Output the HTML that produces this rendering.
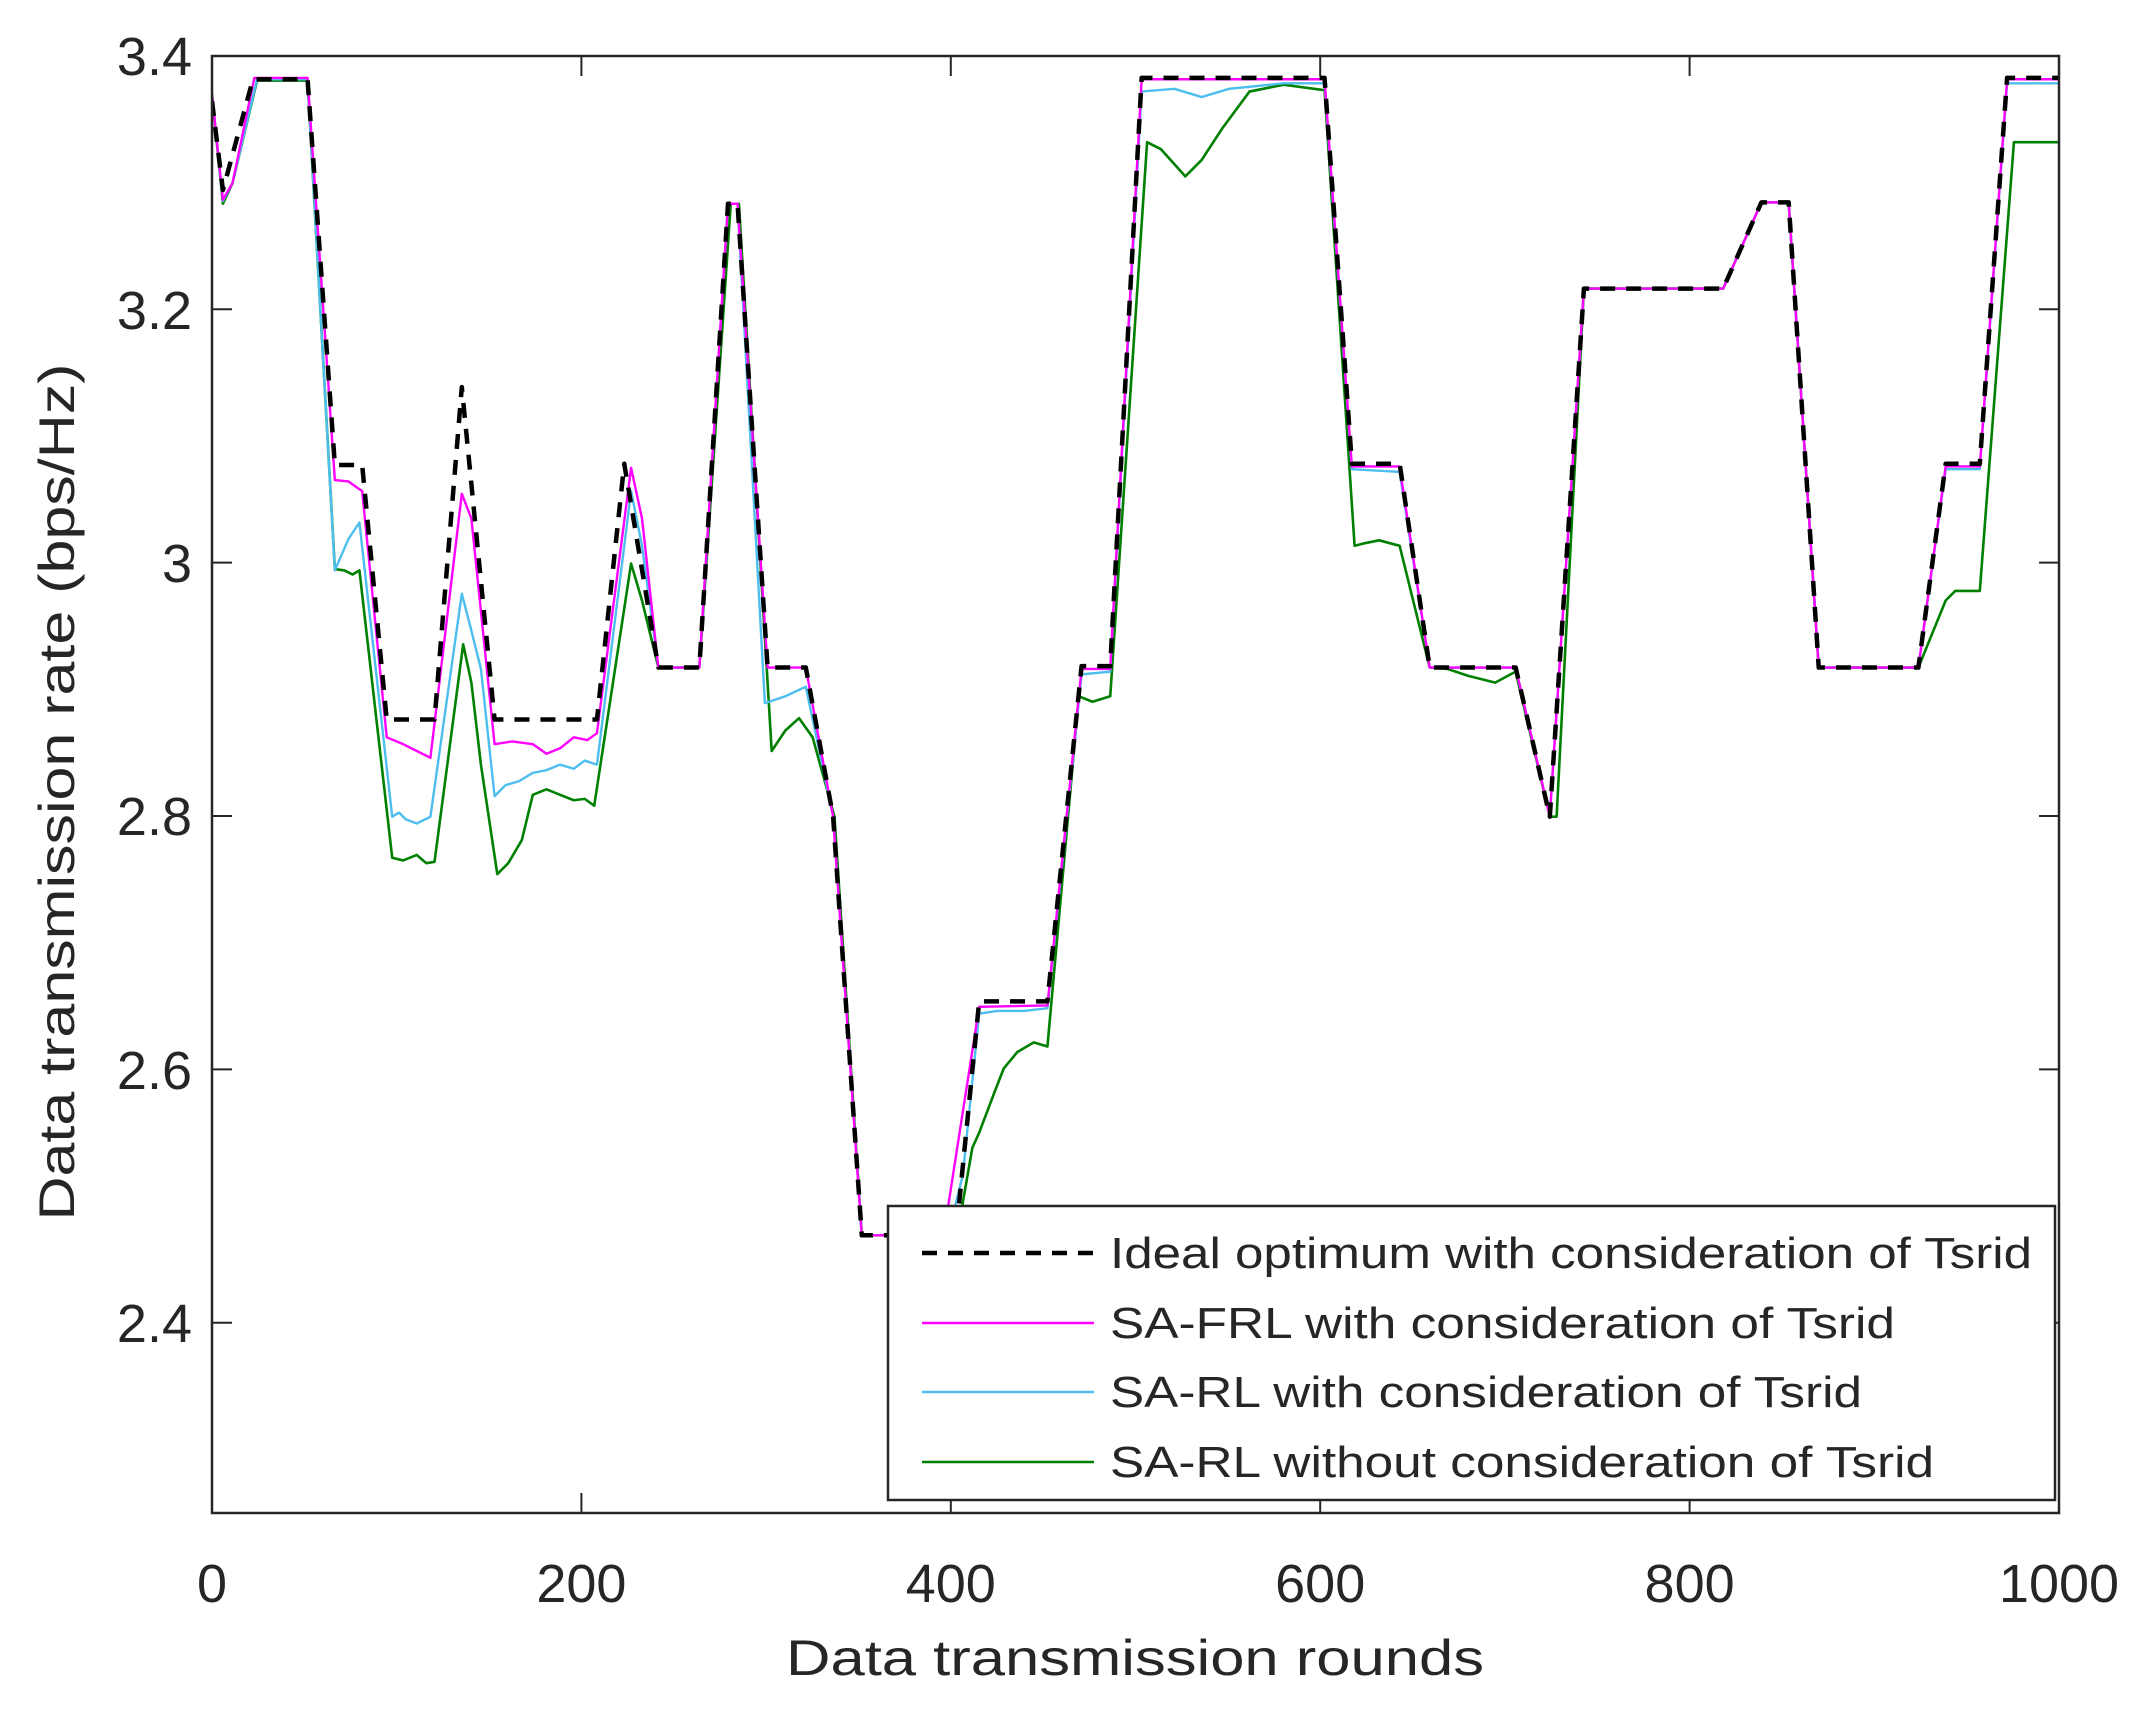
<!DOCTYPE html>
<html><head><meta charset="utf-8"><style>
html,body{margin:0;padding:0;background:#fff;}
svg{display:block;}
text{font-family:"Liberation Sans",Arial,sans-serif;fill:#262626;}
</style></head><body>
<svg width="2139" height="1719" viewBox="0 0 2139 1719" xmlns="http://www.w3.org/2000/svg">
<rect width="2139" height="1719" fill="#fff"/>
<defs><clipPath id="c"><rect x="212" y="56" width="1847" height="1457"/></clipPath></defs>
<g clip-path="url(#c)">
<g transform="translate(212,56) scale(1.3651,1.3681) translate(-155,-42)" fill="none" stroke-linejoin="round">
<polyline vector-effect="non-scaling-stroke" stroke="#008000" stroke-width="2.6" points="155,70 163,150 170,135 188,60 225,60 245,417 252,418 258,421 263,418 287,628 295,630 305,626 312,632 318,631 339,472 345,500 352,560 364,640 372,632 382,615 390,582 400,578 410,582 420,586 428,585 435,590 462,413 470,440 482,489 512,489 535,150 541,150 565,550 575,535 585,526 595,540 611,598 631,904 650,904 690,930 700,940 705,880 712,840 717,829 728,800 735,782 745,770 757,763 767,766 790,510 800,514 813,510 840,105 850,110 868,130 880,118 895,95 915,68 940,63 970,67 992,400 1000,398 1010,396 1025,400 1047,489 1060,490 1075,495 1095,500 1110,492 1135,598 1140,598 1160,212 1262,212 1290,149 1310,149 1332,489 1405,489 1425,440 1432,433 1450,433 1475,105 1510,105"/>
<polyline vector-effect="non-scaling-stroke" stroke="#4dbeee" stroke-width="2.4" points="155,70 163,148 170,135 188,59 225,59 245,418 255,395 263,383 287,598 292,595 297,600 305,603 315,598 338,435 345,462 352,490 362,583 370,575 380,572 390,566 400,564 410,560 420,563 428,557 437,560 462,360 470,400 482,489 512,489 533,150 540,150 560,515 575,510 590,503 610,598 631,904 650,904 690,920 705,860 717,742 730,740 750,740 767,738 792,494 813,492 836,68 860,66 880,72 900,66 940,62 970,62 990,344 1025,346 1047,489 1110,489 1135,598 1160,212 1262,212 1290,149 1310,149 1332,489 1405,489 1425,344 1450,344 1470,62 1510,62"/>
<polyline vector-effect="non-scaling-stroke" stroke="#ff00ff" stroke-width="2.4" points="155,70 163,147 170,135 186,58 225,58 245,352 255,353 262,358 265,360 283,540 295,545 305,550 315,555 338,362 345,380 362,545 375,543 390,545 400,552 410,548 420,540 430,542 437,537 462,343 470,380 482,489 512,489 533,150 540,150 562,489 590,489 610,598 631,904 650,904 690,910 717,737 767,736 792,490 813,490 836,59 970,59 990,342 1025,342 1047,489 1110,489 1135,598 1160,212 1262,212 1290,149 1310,149 1332,489 1405,489 1425,342 1450,342 1470,59 1510,59"/>
<polyline vector-effect="non-scaling-stroke" stroke="#000" stroke-width="4.5" stroke-dasharray="15,11" points="155,75 163,140 185,59 225,59 245,341 265,341 283,527 318,527 338,284 362,527 437,527 457,340 482,489 512,489 533,150 540,150 562,489 590,489 610,598 631,904 700,904 717,733 767,733 792,488 813,488 836,58 970,58 990,340 1025,340 1047,489 1110,489 1135,598 1160,212 1262,212 1290,149 1310,149 1332,489 1405,489 1425,340 1450,340 1470,58 1510,58"/>
</g>
</g>
<rect x="212" y="56" width="1847" height="1457" fill="none" stroke="#262626" stroke-width="2.5"/>
<g stroke="#262626" stroke-width="2">
<line x1="581.4" y1="1513" x2="581.4" y2="1493"/><line x1="950.8" y1="1513" x2="950.8" y2="1493"/><line x1="1320.2" y1="1513" x2="1320.2" y2="1493"/><line x1="1689.6" y1="1513" x2="1689.6" y2="1493"/>
<line x1="581.4" y1="56" x2="581.4" y2="76"/><line x1="950.8" y1="56" x2="950.8" y2="76"/><line x1="1320.2" y1="56" x2="1320.2" y2="76"/><line x1="1689.6" y1="56" x2="1689.6" y2="76"/>
<line x1="212" y1="1322.8" x2="232" y2="1322.8"/><line x1="212" y1="1069.4" x2="232" y2="1069.4"/><line x1="212" y1="816" x2="232" y2="816"/><line x1="212" y1="562.6" x2="232" y2="562.6"/><line x1="212" y1="309.2" x2="232" y2="309.2"/>
<line x1="2059" y1="1322.8" x2="2039" y2="1322.8"/><line x1="2059" y1="1069.4" x2="2039" y2="1069.4"/><line x1="2059" y1="816" x2="2039" y2="816"/><line x1="2059" y1="562.6" x2="2039" y2="562.6"/><line x1="2059" y1="309.2" x2="2039" y2="309.2"/>
</g>
<g font-size="54" text-anchor="middle">
<text x="212" y="1602">0</text><text x="581.4" y="1602">200</text><text x="950.8" y="1602">400</text><text x="1320.2" y="1602">600</text><text x="1689.6" y="1602">800</text><text x="2059" y="1602">1000</text>
</g>
<g font-size="54" text-anchor="end">
<text x="192" y="1342">2.4</text><text x="192" y="1089">2.6</text><text x="192" y="835">2.8</text><text x="192" y="582">3</text><text x="192" y="329">3.2</text><text x="192" y="75">3.4</text>
</g>
<text x="1135" y="1675" font-size="50" text-anchor="middle" textLength="698" lengthAdjust="spacingAndGlyphs">Data transmission rounds</text>
<text transform="translate(74,792) rotate(-90)" font-size="50" text-anchor="middle" textLength="857" lengthAdjust="spacingAndGlyphs">Data transmission rate (bps/Hz)</text>
<rect x="888" y="1206" width="1167" height="294" fill="#fff" stroke="#262626" stroke-width="2.5"/>
<line x1="922" y1="1253" x2="1094" y2="1253" stroke="#000" stroke-width="4.5" stroke-dasharray="15,11"/>
<line x1="922" y1="1323" x2="1094" y2="1323" stroke="#ff00ff" stroke-width="2.5"/>
<line x1="922" y1="1392" x2="1094" y2="1392" stroke="#4dbeee" stroke-width="2.5"/>
<line x1="922" y1="1462" x2="1094" y2="1462" stroke="#008000" stroke-width="2.5"/>
<g font-size="44">
<text x="1110" y="1268" textLength="922" lengthAdjust="spacingAndGlyphs">Ideal optimum with consideration of Tsrid</text>
<text x="1110" y="1338" textLength="785" lengthAdjust="spacingAndGlyphs">SA-FRL with consideration of Tsrid</text>
<text x="1110" y="1407" textLength="752" lengthAdjust="spacingAndGlyphs">SA-RL with consideration of Tsrid</text>
<text x="1110" y="1477" textLength="824" lengthAdjust="spacingAndGlyphs">SA-RL without consideration of Tsrid</text>
</g>
</svg>
</body></html>
